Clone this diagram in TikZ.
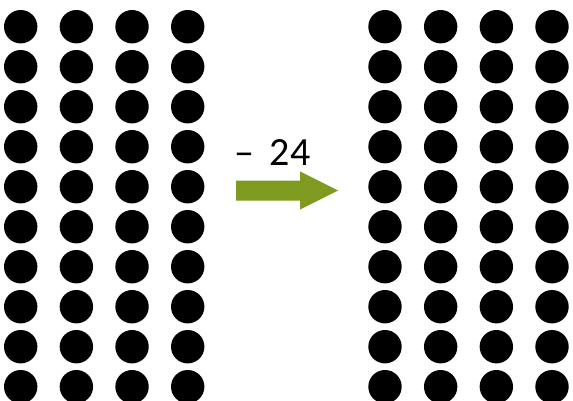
\documentclass[tikz,border=0pt]{standalone}
\usepackage{fontspec}
\setmainfont{Carlito}
\usetikzlibrary{positioning, calc}
\definecolor{arrowGreen}{HTML}{7E9A1F}

\begin{document}
\begin{tikzpicture}[x=1pt, y=-1pt,
    dot/.style={circle, fill=black, inner sep=0pt, minimum size=33.4pt},
    minuslabel/.style={anchor=base west, inner sep=0pt,
                       font=\fontsize{40}{46}\selectfont},
  ]
    \useasboundingbox (0,0) rectangle (573,401);

    % left group: 4 x 10
    \foreach \c in {0,...,3}
      \foreach \r in {0,...,9}
        \node[dot] (L-\c-\r) at ({20.7+55.67*\c}, {26.7+40*\r}) {};

    % right group: 4 x 10
    \foreach \c in {0,...,3}
      \foreach \r in {0,...,9}
        \node[dot] (R-\c-\r) at ({385+55.67*\c}, {26.7+40*\r}) {};

    % arrow and label
    \coordinate (tail) at (236,190.5);
    \coordinate (tip) at (338,190.5);
    \fill[arrowGreen] (tail) ++(0,-10) -- ++(64,0) -- ++(0,-9)
      -- (tip) -- (300,209.5) -- ++(0,-9) -- ($(tail)+(0,10)$) -- cycle;
    \node[minuslabel] (minus) at (234.6,166) {–\hspace{15pt}24};
  \end{tikzpicture}
\end{document}
